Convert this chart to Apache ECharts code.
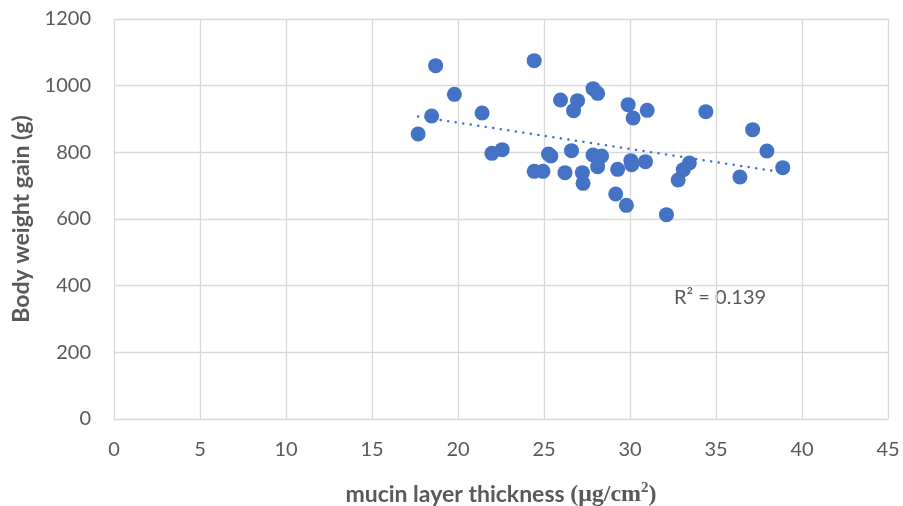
<!DOCTYPE html>
<html>
<head>
<meta charset="utf-8">
<script src="https://cdn.jsdelivr.net/npm/echarts@6/dist/echarts.min.js"></script>
<style>
  html, body { margin: 0; padding: 0; background: #fff; }
  #chart { width: 903px; height: 506px; }
</style>
</head>
<body>
<div id="chart"></div>
<script>
// mucin layer thickness (x) and body weight gain (y)
var thickness = [17.68, 18.47, 18.7, 19.79, 21.4, 21.97, 22.57, 24.43, 24.43, 24.94,
    25.26, 25.4, 25.96, 26.22, 26.6, 26.72, 26.95, 27.23, 27.27, 27.85,
    28.12, 27.85, 28.35, 28.12, 29.17, 29.28, 29.79, 29.89, 30.18, 30.05,
    30.1, 30.9, 31.0, 32.12, 32.8, 33.1, 33.45, 34.41, 36.39, 37.13,
    37.96, 38.88];
var gain = [855, 909, 1060, 974, 918, 797, 808, 1075, 743, 743,
    795, 789, 957, 739, 805, 925, 955, 739, 707, 991,
    977, 792, 789, 757, 675, 749, 641, 943, 903, 775,
    763, 772, 926, 613, 717, 748, 768, 922, 726, 868,
    804, 754];
var xTicks = [0, 45, 5];
var yTicks = [0, 1200, 200];
var r2Label = 'R² = 0.139';

var points = thickness.map(function (x, i) { return [x, gain[i]]; });

// least squares trend line over the data range
var n = points.length, sx = 0, sy = 0, sxx = 0, sxy = 0;
points.forEach(function (p) { sx += p[0]; sy += p[1]; sxx += p[0] * p[0]; sxy += p[0] * p[1]; });
var slope = (n * sxy - sx * sy) / (n * sxx - sx * sx);
var icpt = (sy - slope * sx) / n;
var xMin = Math.min.apply(null, thickness), xMax = Math.max.apply(null, thickness);
var trend = [[xMin, icpt + slope * xMin], [xMax, icpt + slope * xMax]];

var chart = echarts.init(document.getElementById('chart'));
var grey = '#595959';
chart.setOption({
    backgroundColor: '#fff',
    animation: false,
    grid: { left: 114, right: 15, top: 19, bottom: 87, containLabel: false, outerBoundsMode: 'none' },
    xAxis: {
        type: 'value', min: xTicks[0], max: xTicks[1], interval: xTicks[2],
        name: '{b|mucin layer thickness }{s|(μg/cm}{sup|2}{s|)}',
        nameLocation: 'middle', nameGap: 62,
        nameTextStyle: {
            rich: {
                b: { fontFamily: 'Lato', fontWeight: 'bold', fontSize: 23, color: grey },
                s: { fontFamily: 'Liberation Serif', fontWeight: 'bold', fontSize: 24, color: grey },
                sup: { fontFamily: 'Liberation Serif', fontWeight: 'bold', fontSize: 15, color: grey, verticalAlign: 'top', padding: [0, 0, 12, 0] }
            }
        },
        axisLine: { lineStyle: { color: '#D9D9D9', width: 1 } },
        axisTick: { show: false },
        axisLabel: { color: grey, fontFamily: 'Lato', fontSize: 20, margin: 21 },
        splitLine: { show: true, lineStyle: { color: '#D9D9D9', width: 1.3 } }
    },
    yAxis: {
        type: 'value', min: yTicks[0], max: yTicks[1], interval: yTicks[2],
        name: 'Body weight gain (g)',
        nameLocation: 'middle', nameGap: 81,
        nameTextStyle: { fontFamily: 'Lato', fontWeight: 'bold', fontSize: 23, color: grey },
        axisLine: { show: false },
        axisTick: { show: false },
        axisLabel: { color: grey, fontFamily: 'Lato', fontSize: 20, margin: 23, formatter: function (v) { return String(v); } },
        splitLine: { lineStyle: { color: '#D9D9D9', width: 1.3 } }
    },
    series: [
        {
            type: 'scatter',
            data: points,
            symbolSize: 15,
            itemStyle: { color: '#4472C4', opacity: 1 },
            z: 3
        },
        {
            type: 'line',
            data: trend,
            symbol: 'none',
            lineStyle: { color: '#4472C4', width: 2.5, type: [0.1, 7.5], cap: 'round' },
            z: 2
        }
    ],
    graphic: [{
        type: 'text', left: 674, top: 288,
        style: { text: r2Label, fontFamily: 'Lato', fontSize: 20, fill: grey }
    }]
});
</script>
</body>
</html>
